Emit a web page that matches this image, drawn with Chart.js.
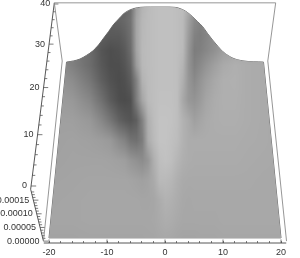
<!DOCTYPE html>
<html>
<head>
<meta charset="utf-8">
<style>
  html, body { margin: 0; padding: 0; background: #fff; }
  canvas { display: block; }
</style>
<script src="https://cdn.jsdelivr.net/npm/chart.js@4"></script>
</head>
<body>
<canvas id="surfaceChart" width="300" height="258"></canvas>
<script>
// Hump along the far edge of the surface
const ridgeX = [-20, -18.5, -17.2, -15.8, -14.4, -13.2, -12.1, -11, -10, -8.9, -7.9, -6.6, -4.7, -2.8, 0, 1.9, 3.4, 4.3, 5.3, 6.3, 7.3, 8.3, 9.4, 10.5, 11.6, 13.7, 15.8, 20];
const ridgeZ = [0, 0.000004, 0.00001, 0.000022, 0.000037, 0.000056, 0.000078, 0.0001, 0.000122, 0.000141, 0.000158, 0.000171, 0.000179, 0.00018, 0.00018, 0.000179, 0.000171, 0.000162, 0.000148, 0.000132, 0.000116, 0.000094, 0.000072, 0.000052, 0.000034, 0.000013, 0.000004, 0];

// Tick labels
const xMajorTicks = [-20, -10, 0, 10, 20];
const xMinorTicks = [-18, -16, -14, -12, -8, -6, -4, -2, 2, 4, 6, 8, 12, 14, 16, 18];
const yMajorTicks = [0, 10, 20, 30, 40];
const yMinorTicks = [2, 4, 6, 8, 12, 14, 16, 18, 22, 24, 26, 28, 32, 34, 36, 38];
const zMajorTicks = [0, 0.00005, 0.0001, 0.00015];
const zMinorTicks = [0.00001, 0.00002, 0.00003, 0.00004, 0.00006, 0.00007, 0.00008, 0.00009, 0.00011, 0.00012, 0.00013, 0.00014, 0.00016, 0.00017, 0.00018];

// Grey level of the surface: columns along the x scale, rows along the height scale
const shadeX = [-20, -16, -13, -11, -9.5, -8, -7, -6, -5, -4, -3, -2, -1, 0, 1, 2, 3, 4, 5, 6, 7, 8.5, 10, 12, 14, 17, 20];
const shadeH = [5, 23, 43, 63, 83, 103, 123, 143, 163, 178, 193, 208, 223, 235];
const shadeRows = [
  [163, 163, 164, 164, 164, 164, 164, 164, 164, 164, 165, 165, 167, 168, 167, 165, 164, 164, 164, 165, 165, 165, 166, 166, 166, 166, 166],
  [165, 165, 166, 166, 166, 166, 166, 166, 166, 166, 166, 167, 170, 173, 172, 169, 167, 167, 167, 167, 167, 167, 168, 168, 168, 168, 168],
  [164, 165, 166, 166, 166, 166, 166, 166, 166, 165, 165, 166, 172, 178, 176, 172, 168, 167, 168, 168, 168, 168, 168, 168, 168, 168, 168],
  [163, 164, 165, 165, 165, 165, 165, 164, 162, 160, 163, 170, 185, 185, 182, 175, 170, 169, 169, 169, 169, 169, 169, 169, 169, 168, 168],
  [161, 163, 163, 163, 162, 160, 158, 150, 145, 140, 150, 175, 190, 193, 190, 182, 175, 172, 171, 171, 171, 171, 171, 171, 170, 169, 168],
  [160, 162, 160, 157, 153, 138, 130, 115, 112, 125, 172, 186, 195, 195, 192, 188, 178, 172, 172, 172, 172, 172, 172, 172, 171, 170, 168],
  [160, 159, 152, 135, 118, 98, 90, 85, 95, 130, 175, 188, 195, 195, 194, 190, 178, 170, 160, 165, 170, 173, 174, 174, 172, 170, 168],
  [158, 152, 135, 112, 92, 78, 76, 80, 125, 165, 186, 190, 193, 193, 193, 190, 168, 152, 148, 155, 165, 172, 175, 175, 172, 170, 168],
  [155, 140, 118, 95, 82, 76, 80, 92, 130, 178, 187, 190, 192, 192, 192, 190, 175, 150, 138, 148, 158, 168, 175, 176, 172, 170, 168],
  [150, 128, 108, 88, 78, 78, 85, 100, 155, 184, 188, 190, 192, 192, 192, 190, 180, 148, 130, 138, 148, 160, 170, 175, 172, 170, 168],
  [120, 125, 108, 85, 78, 82, 90, 108, 163, 185, 188, 190, 192, 192, 192, 190, 185, 150, 125, 128, 135, 145, 158, 165, 165, 165, 165],
  [100, 100, 100, 95, 90, 90, 98, 112, 165, 184, 188, 190, 192, 192, 192, 190, 186, 155, 130, 125, 132, 142, 150, 155, 160, 160, 160],
  [95, 95, 95, 95, 95, 100, 105, 115, 165, 183, 188, 190, 192, 192, 192, 190, 186, 160, 138, 130, 135, 140, 145, 150, 150, 150, 150],
  [100, 100, 100, 100, 100, 100, 100, 110, 160, 180, 187, 190, 192, 192, 192, 190, 188, 170, 150, 140, 140, 140, 140, 140, 150, 150, 150]
];

const Z_MAX = 0.00019;
const BOX_X = 20.9;
const BOX_Y_MIN = -0.6;
const BOX_Y_MAX = 40.3;
const FONT = '9px "Liberation Sans"';

// Perspective view of the 3D box, returned in the chart's x scale / height scale values
function project(x, y, z) {
    const zf = z / Z_MAX;
    const p = 1 / (1 + 0.00445 * y);
    const widen = 1 + zf * (0.105 - 0.0007 * y);
    return {
        x: x * p * widen,
        y: 5 + 52 * zf + (5.18 + 0.18 * zf) * y * p
    };
}

function lerpIndex(list, v) {
    let i = 0;
    while (i < list.length - 2 && v > list[i + 1]) i++;
    const t = Math.min(1, Math.max(0, (v - list[i]) / (list[i + 1] - list[i])));
    return [i, t];
}

// Fill pattern for the surface, sampled through the chart's scales
function surfacePattern(chart) {
    const { width, height } = chart;
    const off = document.createElement('canvas');
    off.width = width;
    off.height = height;
    const octx = off.getContext('2d');
    const img = octx.createImageData(width, height);
    for (let py = 0; py < height; py++) {
        const [r, tr] = lerpIndex(shadeH, chart.scales.y.getValueForPixel(py));
        for (let px = 0; px < width; px++) {
            const [c, tc] = lerpIndex(shadeX, chart.scales.x.getValueForPixel(px));
            const low = shadeRows[r][c] * (1 - tc) + shadeRows[r][c + 1] * tc;
            const high = shadeRows[r + 1][c] * (1 - tc) + shadeRows[r + 1][c + 1] * tc;
            const v = low * (1 - tr) + high * tr;
            const k = (py * width + px) * 4;
            img.data[k] = img.data[k + 1] = img.data[k + 2] = v;
            img.data[k + 3] = 255;
        }
    }
    octx.putImageData(img, 0, 0);
    return chart.ctx.createPattern(off, 'no-repeat');
}

function tickSegments(list, at, length) {
    const pts = [];
    list.forEach(v => {
        pts.push(at(v, 0), at(v, length), { x: null, y: null });
    });
    return pts;
}

const yTickAt = (v, d) => project(-BOX_X + d, v, Z_MAX);
const zTickAt = (v, d) => project(-BOX_X + d, BOX_Y_MIN, v);
const xTickAt = (v, d) => ({ x: v, y: d });

const ridgeLine = ridgeX.map((x, i) => project(x, 40, ridgeZ[i]));
const surfaceOutline = [project(-20, 0, 0)].concat(ridgeLine, [project(20, 0, 0)]);

function lineSet(data, color, width) {
    return { data, showLine: true, borderColor: color, borderWidth: width, pointRadius: 0, fill: false, clip: false };
}

// Axis numbers on the slanted edges of the box
const slantedLabels = {
    id: 'slantedLabels',
    afterDatasetsDraw(chart) {
        const { ctx, scales } = chart;
        ctx.save();
        ctx.font = FONT;
        ctx.fillStyle = '#333';
        ctx.textAlign = 'right';
        ctx.textBaseline = 'middle';
        const put = (text, pos) => ctx.fillText(text, scales.x.getPixelForValue(pos.x) - 4, scales.y.getPixelForValue(pos.y));
        yMajorTicks.forEach(v => put(String(v), yTickAt(v, 0)));
        zMajorTicks.forEach(v => put(v.toFixed(5), zTickAt(v, 0)));
        ctx.restore();
    }
};

const chart = new Chart(document.getElementById('surfaceChart').getContext('2d'), {
    type: 'scatter',
    data: {
        datasets: [
            // surface fill, then its smooth top edge and straight sides
            {
                data: surfaceOutline,
                showLine: true,
                borderWidth: 0,
                borderColor: 'rgba(0,0,0,0)',
                pointRadius: 0,
                clip: false,
                fill: { target: { value: 5 } },
                backgroundColor: ctx => surfacePattern(ctx.chart)
            },
            Object.assign(lineSet(ridgeLine, '#444', 0.8), { cubicInterpolationMode: 'monotone' }),
            lineSet([project(-20, 0, 0), project(-20, 40, 0)], '#444', 0.8),
            lineSet([project(20, 0, 0), project(20, 40, 0)], '#444', 0.8),
            lineSet([project(-20, 0, 0), project(20, 0, 0)], '#999', 1.2),
            // box edges
            lineSet([project(-BOX_X, BOX_Y_MIN, 0), project(-BOX_X, BOX_Y_MAX, 0), project(-BOX_X, BOX_Y_MAX, Z_MAX), project(BOX_X, BOX_Y_MAX, Z_MAX), project(BOX_X, BOX_Y_MAX, 0), project(BOX_X, BOX_Y_MIN, 0)], '#8a8a8a', 0.9),
            // axes
            lineSet([project(-BOX_X, BOX_Y_MIN, 0), project(-BOX_X, BOX_Y_MIN, Z_MAX), project(-BOX_X, BOX_Y_MAX, Z_MAX)], '#444', 0.9),
            lineSet([{ x: -BOX_X, y: 0 }, { x: BOX_X, y: 0 }], '#444', 0.9),
            lineSet(tickSegments(yMajorTicks, yTickAt, 0.8), '#444', 0.7),
            lineSet(tickSegments(yMinorTicks, yTickAt, 0.45), '#444', 0.7),
            lineSet(tickSegments(zMajorTicks, zTickAt, 0.8), '#444', 0.7),
            lineSet(tickSegments(zMinorTicks, zTickAt, 0.45), '#444', 0.7),
            lineSet(tickSegments(xMajorTicks, xTickAt, 3.5), '#444', 0.7)
        ]
    },
    options: {
        responsive: false,
        animation: false,
        events: [],
        layout: { padding: { left: 49, right: 19, top: 0, bottom: 0 } },
        plugins: { legend: { display: false }, tooltip: { enabled: false } },
        scales: {
            x: {
                type: 'linear',
                min: -20,
                max: 20,
                afterFit: scale => { scale.height = 15; },
                border: { display: false },
                grid: { drawOnChartArea: false, tickLength: -2, tickColor: '#444', tickWidth: 0.7 },
                afterBuildTicks: scale => {
                    scale.ticks = xMajorTicks.concat(xMinorTicks).sort((a, b) => a - b).map(value => ({ value }));
                },
                ticks: {
                    autoSkip: false,
                    maxRotation: 0,
                    padding: 6,
                    color: '#333',
                    font: { family: 'Liberation Sans', size: 9 },
                    callback: v => (xMajorTicks.includes(v) ? String(v) : '')
                }
            },
            y: { type: 'linear', display: false, min: 0, max: 243 }
        }
    },
    plugins: [slantedLabels]
});
</script>
</body>
</html>
